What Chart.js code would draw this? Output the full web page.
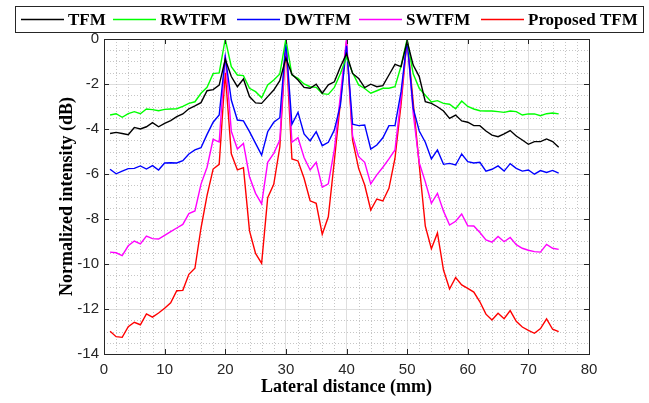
<!DOCTYPE html>
<html>
<head>
<meta charset="utf-8">
<script src="https://cdn.jsdelivr.net/npm/chart.js@4.4.1/dist/chart.umd.min.js"></script>
<style>
  html, body { margin: 0; padding: 0; background: #fff; }
  #wrap { width: 649px; height: 403px; }
</style>
</head>
<body>
<div id="wrap"><canvas id="chart" width="649" height="403"></canvas></div>
<script>
// lateral position of each sample (mm)
var distance = [1, 2, 3, 4, 5, 6, 7, 8, 9, 10, 11, 12, 13, 14, 15, 16, 17, 18, 19, 20,
  21, 22, 23, 24, 25, 26, 27, 28, 29, 30, 31, 32, 33, 34, 35, 36, 37, 38, 39, 40,
  41, 42, 43, 44, 45, 46, 47, 48, 49, 50, 51, 52, 53, 54, 55, 56, 57, 58, 59, 60,
  61, 62, 63, 64, 65, 66, 67, 68, 69, 70, 71, 72, 73, 74, 75];

var tfm = [-4.2, -4.15, -4.2, -4.25, -3.93, -4.0, -3.9, -3.72, -3.9, -3.75,
  -3.63, -3.45, -3.33, -3.1, -2.97, -2.83, -2.3, -2.25, -2.05, -0.9,
  -1.67, -2.12, -1.78, -2.56, -2.84, -2.86, -2.56, -2.27, -1.85, -0.85,
  -1.57, -1.82, -2.15, -2.19, -2.01, -2.41, -2.04, -1.9, -1.23, -0.65,
  -1.53, -1.75, -2.16, -2.01, -2.12, -2.07, -1.6, -1.13, -1.23, -0.1,
  -1.16, -1.67, -2.79, -2.86, -3.01, -3.2, -3.53, -3.38, -3.64, -3.7,
  -3.85, -3.85, -4.09, -4.27, -4.34, -4.22, -4.07, -4.31, -4.49, -4.68,
  -4.56, -4.56, -4.44, -4.56, -4.81];

var rwtfm = [-3.38, -3.32, -3.48, -3.32, -3.23, -3.32, -3.11, -3.14, -3.19, -3.13,
  -3.11, -3.1, -2.99, -2.86, -2.79, -2.41, -2.15, -1.54, -1.51, 0,
  -1.23, -1.6, -1.63, -2.19, -2.34, -2.61, -2.04, -1.82, -1.55, 0,
  -1.6, -1.75, -2.0, -2.12, -2.15, -2.43, -2.46, -2.15, -1.53, -0.8,
  -1.5, -2.04, -2.2, -2.41, -2.3, -2.19, -2.19, -2.12, -1.2, 0,
  -1.55, -2.19, -2.5, -2.8, -2.74, -2.86, -2.9, -3.1, -2.76, -3.0,
  -3.11, -3.19, -3.2, -3.2, -3.23, -3.26, -3.2, -3.23, -3.38, -3.33,
  -3.33, -3.41, -3.32, -3.29, -3.33];

var dwtfm = [-5.79, -5.99, -5.87, -5.76, -5.75, -5.64, -5.78, -5.63, -5.82, -5.51,
  -5.5, -5.51, -5.41, -5.11, -4.93, -4.83, -4.24, -3.7, -3.38, -0.8,
  -2.71, -3.6, -3.64, -4.12, -4.64, -5.16, -4.12, -3.7, -3.5, -0.1,
  -3.79, -3.26, -4.22, -4.53, -4.12, -4.74, -4.59, -4.04, -2.93, -0.3,
  -3.79, -3.85, -3.82, -4.89, -4.71, -4.39, -3.85, -3.85, -2.34, -0.05,
  -3.08, -4.09, -4.59, -5.33, -4.93, -5.57, -5.53, -5.6, -5.11, -5.45,
  -5.51, -5.48, -5.87, -5.79, -5.64, -5.87, -5.54, -5.75, -5.87, -5.82,
  -6.01, -5.85, -5.93, -5.84, -5.96];

var swtfm = [-9.47, -9.5, -9.63, -9.19, -8.98, -9.11, -8.76, -8.87, -8.89, -8.73,
  -8.56, -8.4, -8.24, -7.76, -7.64, -6.45, -5.7, -4.46, -4.58, -0.7,
  -4.1, -4.89, -4.64, -6.12, -6.86, -7.33, -5.48, -5.08, -4.49, 0,
  -4.59, -4.39, -5.27, -5.82, -5.48, -6.59, -6.44, -4.9, -2.5, 0,
  -4.3, -5.23, -5.48, -6.44, -6.04, -5.7, -5.33, -4.93, -2.6, 0,
  -3.3, -5.5, -6.35, -7.3, -6.86, -7.65, -8.27, -8.1, -7.78, -8.3,
  -8.31, -8.6, -8.93, -9.03, -8.78, -9.01, -8.82, -9.14, -9.3, -9.39,
  -9.45, -9.47, -9.13, -9.3, -9.35];

var proposed = [-12.99, -13.23, -13.26, -12.79, -12.59, -12.7, -12.22, -12.36, -12.18, -11.97,
  -11.72, -11.19, -11.17, -10.46, -10.19, -8.4, -6.95, -5.78, -5.57, -1.5,
  -5.1, -5.82, -5.72, -8.53, -9.53, -9.97, -7.05, -6.46, -4.8, -0.2,
  -5.33, -5.42, -6.19, -7.19, -7.3, -8.68, -7.9, -5.4, -2.8, -0.1,
  -4.5, -5.75, -6.49, -7.6, -7.11, -7.2, -6.64, -5.3, -2.9, 0,
  -2.8, -5.6, -8.32, -9.32, -8.62, -10.27, -11.11, -10.6, -10.93, -11.08,
  -11.25, -11.68, -12.23, -12.49, -12.19, -12.43, -12.07, -12.55, -12.8, -12.95,
  -13.08, -12.87, -12.44, -12.9, -13.01];

var seriesNames = ['TFM', 'RWTFM', 'DWTFM', 'SWTFM', 'Proposed TFM'];
var seriesColors = ['#000000', '#00ff00', '#0000ff', '#ff00ff', '#ff0000'];
var seriesValues = [tfm, rwtfm, dwtfm, swtfm, proposed];

var xMinorTicks = [2, 4, 6, 8, 12, 14, 16, 18, 22, 24, 26, 28, 32, 34, 36, 38,
  42, 44, 46, 48, 52, 54, 56, 58, 62, 64, 66, 68, 72, 74, 76, 78];
var yMinorTicks = [-0.5, -1, -1.5, -2.5, -3, -3.5, -4.5, -5, -5.5, -6.5, -7, -7.5,
  -8.5, -9, -9.5, -10.5, -11, -11.5, -12.5, -13, -13.5];

var axisColor = '#262626';
var labelFont = '"Liberation Serif", "Times New Roman", serif';
// left edge of each legend entry's line sample
var legendSlots = [21, 113, 237, 359, 481];

function buildDatasets() {
  return seriesNames.map(function (name, i) {
    return {
      label: name,
      data: distance.map(function (d, k) { return {x: d, y: seriesValues[i][k]}; }),
      borderColor: seriesColors[i],
      backgroundColor: seriesColors[i],
      borderWidth: 1.4,
      pointRadius: 0,
      tension: 0
    };
  });
}

var matlabLook = {
  id: 'matlabLook',

  beforeDatasetsDraw: function (chart) {
    var ctx = chart.ctx, a = chart.chartArea;
    var xs = chart.scales.x, ys = chart.scales.y;
    ctx.save();
    ctx.strokeStyle = '#c6c6c6';
    ctx.lineWidth = 1;
    ctx.setLineDash([1, 2]);
    xMinorTicks.forEach(function (v) {
      var px = Math.round(xs.getPixelForValue(v)) + 0.5;
      ctx.beginPath();
      ctx.moveTo(px, a.top);
      ctx.lineTo(px, a.bottom);
      ctx.stroke();
    });
    yMinorTicks.forEach(function (v) {
      var py = Math.round(ys.getPixelForValue(v)) + 0.5;
      ctx.beginPath();
      ctx.moveTo(a.left, py);
      ctx.lineTo(a.right, py);
      ctx.stroke();
    });
    ctx.restore();
  },

  afterDatasetsDraw: function (chart) {
    var ctx = chart.ctx, a = chart.chartArea;
    var xs = chart.scales.x, ys = chart.scales.y;
    var len = 5;
    ctx.save();
    ctx.strokeStyle = axisColor;
    ctx.lineWidth = 1;
    ctx.beginPath();
    xs.ticks.forEach(function (t) {
      var px = Math.round(xs.getPixelForValue(t.value)) + 0.5;
      ctx.moveTo(px, a.bottom);
      ctx.lineTo(px, a.bottom - len);
      ctx.moveTo(px, a.top);
      ctx.lineTo(px, a.top + len);
    });
    ys.ticks.forEach(function (t) {
      var py = Math.round(ys.getPixelForValue(t.value)) + 0.5;
      ctx.moveTo(a.left, py);
      ctx.lineTo(a.left + len, py);
      ctx.moveTo(a.right, py);
      ctx.lineTo(a.right - len, py);
    });
    ctx.stroke();
    ctx.strokeRect(Math.round(a.left) + 0.5, Math.round(a.top) + 0.5,
      Math.round(a.right - a.left), Math.round(a.bottom - a.top));
    ctx.restore();
  },

  afterDraw: function (chart) {
    // legend box across the top, one row
    var ctx = chart.ctx;
    var y = 19.5;
    ctx.save();
    ctx.fillStyle = '#ffffff';
    ctx.fillRect(15, 6, 629, 27);
    ctx.strokeStyle = axisColor;
    ctx.lineWidth = 1;
    ctx.strokeRect(15.5, 6.5, 628, 26);
    ctx.font = 'bold 17px ' + labelFont;
    ctx.textBaseline = 'middle';
    chart.data.datasets.forEach(function (ds, i) {
      var x = legendSlots[i];
      ctx.strokeStyle = ds.borderColor;
      ctx.lineWidth = 1.4;
      ctx.beginPath();
      ctx.moveTo(x, y);
      ctx.lineTo(x + 43, y);
      ctx.stroke();
      ctx.fillStyle = '#000000';
      ctx.fillText(ds.label, x + 47, y + 1);
    });
    ctx.restore();
  }
};

var chart = new Chart(document.getElementById('chart'), {
  type: 'line',
  data: {datasets: buildDatasets()},
  plugins: [matlabLook],
  options: {
    responsive: false,
    devicePixelRatio: 1,
    animation: false,
    layout: {padding: {top: 39, right: 60, left: 0, bottom: 0}},
    plugins: {legend: {display: false}, tooltip: {enabled: false}},
    scales: {
      x: {
        type: 'linear',
        min: 0,
        max: 80,
        afterFit: function (s) { s.height = 49; },
        ticks: {stepSize: 10, padding: 7, color: axisColor,
          font: {family: '"Liberation Sans", Arial, sans-serif', size: 15}},
        grid: {color: '#dedede', drawTicks: false},
        border: {display: false},
        title: {display: true, text: 'Lateral distance (mm)', color: '#000000',
          padding: {top: 0, bottom: 5},
          font: {family: labelFont, size: 18, weight: 'bold'}}
      },
      y: {
        type: 'linear',
        min: -14,
        max: 0,
        afterFit: function (s) { s.width = 104; },
        ticks: {stepSize: 2, padding: 5, color: axisColor,
          font: {family: '"Liberation Sans", Arial, sans-serif', size: 15}},
        grid: {color: '#dedede', drawTicks: false},
        border: {display: false},
        title: {display: true, text: 'Normalized intensity (dB)', color: '#000000',
          padding: {top: 57, bottom: 0},
          font: {family: labelFont, size: 18, weight: 'bold'}}
      }
    }
  }
});
</script>
</body>
</html>
